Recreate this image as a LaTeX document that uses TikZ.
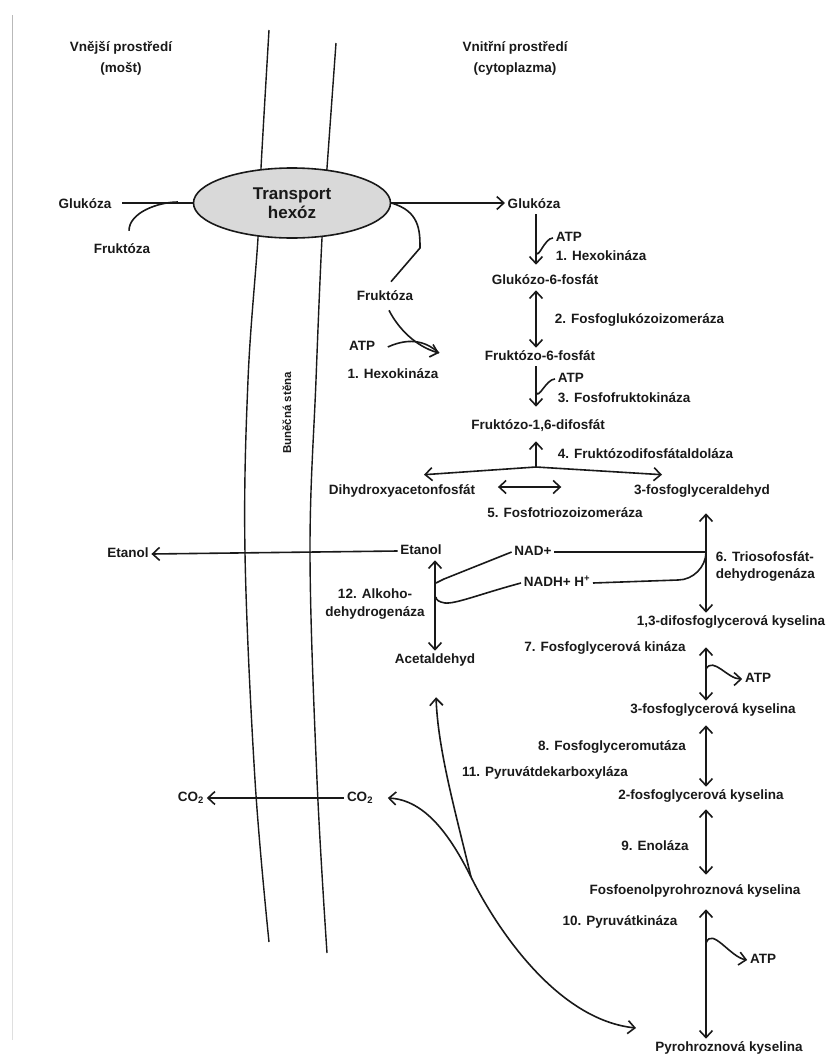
\documentclass[tikz,border=0pt]{standalone}
\usepackage{fontspec}
\setmainfont{Liberation Sans}
\usetikzlibrary{arrows.meta, shapes.geometric}

\begin{document}
\begin{tikzpicture}[x=1pt, y=-1pt, line width=1.6pt, color=black!90,
    txt/.style={font=\fontsize{13.5}{17}\selectfont\bfseries, inner sep=2pt,
        text height=10pt, text depth=3pt},
    txtm/.style={font=\fontsize{13.5}{17}\selectfont\bfseries, inner sep=2pt,
        align=center},
    arrow/.style={-{Straight Barb[length=7pt, width=13pt]}},
    darrow/.style={{Straight Barb[length=7pt, width=13pt]}-{Straight Barb[length=7pt, width=13pt]}},
    wall/.style={line width=1.4pt}
]
\useasboundingbox (0,0) rectangle (834,1058);
\draw[gray!55, line width=1pt] (12,15) -- (12,560);
\draw[gray!25, line width=1pt] (12,560) -- (12,1040);

% cell wall
\draw[wall] plot[smooth, tension=0.6] coordinates {(269,30) (261,168) (258,238)
    (248,380) (245,553) (255,780) (269,942)};
\draw[wall] plot[smooth, tension=0.6] coordinates {(336,43) (327,168) (322,238)
    (316,380) (310,553) (317,780) (327,953)};
\node[font=\fontsize{11.5}{13}\selectfont\bfseries, rotate=90] (stena) at (287,413) {Buněčná stěna};

\node[txtm, font=\fontsize{13.5}{21}\selectfont\bfseries] (outside) at (121,58) {Vnější prostředí\\(mošt)};
\node[txtm, font=\fontsize{13.5}{21}\selectfont\bfseries] (inside)  at (515,58) {Vnitřní prostředí\\(cytoplazma)};

\node[ellipse, draw, fill=gray!30, minimum width=197pt, minimum height=70pt,
    inner sep=0pt, align=center, font=\fontsize{17}{19}\selectfont\bfseries]
    (hex) at (292,203) {Transport\\hexóz};

% outside
\node[txt] (gluOut) at (85,205)  {Glukóza};
\node[txt] (fruOut) at (122,250) {Fruktóza};
\coordinate (jOut) at (178,202);

% glycolysis
\node[txt] (gluIn)  at (534,205) {Glukóza};
\node[txt] (fruIn)  at (385,297) {Fruktóza};
\node[txt] (atpFru) at (362,347) {ATP};
\node[txt] (hexFru) at (393,375) {1. Hexokináza};
\coordinate (tipF) at (439,353);

\node[txt, anchor=west] (atpGlu) at (553,238) {ATP};
\node[txt, anchor=west] (hexGlu) at (553,257) {1. Hexokináza};
\node[txt] (g6p) at (545,281) {Glukózo-6-fosfát};
\node[txt, anchor=west] (e2) at (552,320) {2. Fosfoglukózoizomeráza};
\node[txt] (f6p) at (540,357) {Fruktózo-6-fosfát};
\node[txt, anchor=west] (atp3) at (555,379) {ATP};
\node[txt, anchor=west] (e3) at (555,399) {3. Fosfofruktokináza};
\node[txt] (f16) at (538,426) {Fruktózo-1,6-difosfát};
\node[txt, anchor=west] (e4) at (555,455) {4. Fruktózodifosfátaldoláza};
\node[txt] (dhap) at (402,491) {Dihydroxyacetonfosfát};
\node[txt] (gap)  at (702,491) {3-fosfoglyceraldehyd};
\node[txt] (e5)   at (565,514) {5. Fosfotriozoizomeráza};

\node[txt] (etIn)  at (421,551) {Etanol};
\node[txt] (etOut) at (128,554) {Etanol};
\node[txt] (nad)   at (533,552) {NAD+};
\node[txt] (nadh)  at (557,583) {NADH+ H\textsuperscript{+}};
\node[txtm, align=left, anchor=west] (e6) at (713,566) {6. Triosofosfát-\\dehydrogenáza};
\node[txt] (bpg) at (731,622) {1,3-difosfoglycerová kyselina};
\node[txtm, font=\fontsize{13.5}{18}\selectfont\bfseries] (e12) at (375,604) {12. Alkoho-\\dehydrogenáza};
\node[txt] (acet) at (435,660) {Acetaldehyd};

\node[txt] (e7)   at (605,648) {7. Fosfoglycerová kináza};
\node[txt] (atp7) at (758,679) {ATP};
\node[txt] (pg3)  at (713,710) {3-fosfoglycerová kyselina};
\node[txt] (e8)   at (612,747) {8. Fosfoglyceromutáza};
\node[txt] (e11)  at (545,773) {11. Pyruvátdekarboxyláza};
\node[txt] (pg2)  at (701,796) {2-fosfoglycerová kyselina};
\node[txt] (co2In)  at (360,798) {CO\textsubscript{2}};
\node[txt] (co2Out) at (191,798) {CO\textsubscript{2}};
\node[txt] (e9)   at (655,847) {9. Enoláza};
\node[txt] (pep)  at (695,891) {Fosfoenolpyrohroznová kyselina};
\node[txt] (e10)  at (620,922) {10. Pyruvátkináza};
\node[txt] (atp10) at (763,960) {ATP};
\node[txt] (pyr)  at (729,1048) {Pyrohroznová kyselina};

\coordinate (ax1) at (536,0);
\coordinate (ax2) at (706,0);
\coordinate (ax3) at (435,0);
\coordinate (m1) at (536,252);
\coordinate (m3) at (536,392);
\coordinate (br) at (536,467);
\coordinate (jn) at (471,877);
\coordinate (pyrTip) at (636,1028);

% transport
\draw ([xshift=8pt]gluOut.east |- hex.west) -- (hex.west);
\draw ([xshift=7pt,yshift=10pt]fruOut.north) .. controls +(0,-18) and +(-20,0) .. (jOut);
\draw[arrow] (hex.east) -- (hex.east -| gluIn.west);
\draw (hex.east) .. controls +(28,8) and +(0,-18) .. (420,248)
      -- ([xshift=6pt,yshift=6pt]fruIn.north);
\draw[arrow] ([xshift=4pt,yshift=-4pt]fruIn.south) .. controls (398,328) and (415,346) .. (tipF);
\draw ([xshift=10pt]atpFru.east) .. controls (412,336) and (428,343) .. (tipF);

% glycolysis
\draw[arrow, shorten >=7pt] (gluIn.south -| ax1) -- (g6p.north -| ax1);
\draw (atpGlu.west) to[out=180, in=-75] (m1);
\draw[darrow] (g6p.south -| ax1) -- (f6p.north -| ax1);
\draw[arrow, shorten >=10pt] (f6p.south -| ax1) -- (f16.north -| ax1);
\draw (atp3.west) to[out=180, in=-75] (m3);
\draw[arrow, shorten >=6pt] (br) -- (f16.south -| ax1);
\draw[arrow] (br) -- ([xshift=22pt,yshift=7pt]dhap.north);
\draw[arrow] (br) -- ([xshift=-40pt,yshift=7pt]gap.north);
\draw[darrow] ([xshift=20pt,yshift=4pt]dhap.east) -- ([xshift=-70pt,yshift=4pt]gap.west);
\draw[darrow, shorten <=13pt] (gap.south -| ax2) -- (bpg.north -| ax2);
\draw (nad.east) -- (nad.east -| ax2);
\draw (nadh.east) -- ++(85,-3) .. controls +(15,0) and +(0,15) .. (ax2 |- nad.east);

% fermentation
\draw[arrow] (etIn.west) -- (etOut.east);
\draw[darrow] (etIn.south -| ax3) -- (acet.north -| ax3);
\draw (nad.west) -- (444,579) -- (436,583);
\draw (nadh.west) .. controls (480,594) and (456,604) .. (445,603)
      .. controls (439,602) and (436,600) .. (436,597);

\draw[darrow, shorten <=16pt] (bpg.south -| ax2) -- (pg3.north -| ax2);
\draw[arrow] ([yshift=10pt]atp7.west -| ax2) to[out=60, in=180] (atp7.west);
\draw[darrow, shorten <=6pt] (pg3.south -| ax2) -- (pg2.north -| ax2);
\draw[darrow, shorten <=4pt, shorten >=7pt] (pg2.south -| ax2) -- (pep.north -| ax2);
\draw[darrow, shorten <=9pt] (pep.south -| ax2) -- (pyr.north -| ax2);
\draw[arrow] ([yshift=17pt]atp10.west -| ax2) to[out=70, in=170] (atp10.west);

\draw[arrow] (co2In.west) -- (co2Out.east);
\draw[arrow] (jn) .. controls (450,835) and (425,800) .. ([xshift=12pt]co2In.east);
\draw[arrow] (jn) .. controls (500,935) and (560,1020) .. (pyrTip);
\draw[arrow, shorten >=28pt] (jn) .. controls (455,810) and (438,750) .. (acet.south -| ax3);
\end{tikzpicture}
\end{document}
